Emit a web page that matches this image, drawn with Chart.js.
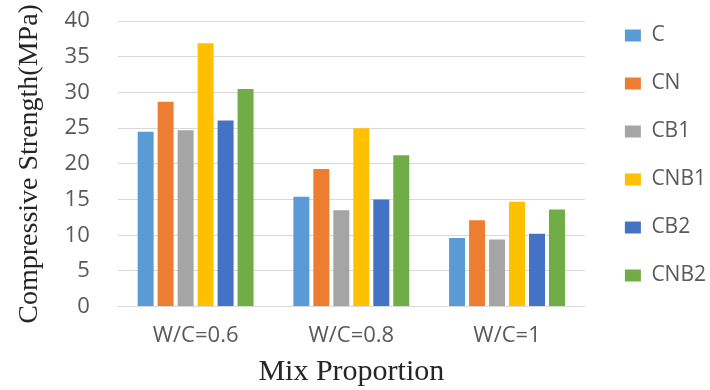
<!DOCTYPE html>
<html>
<head>
<meta charset="utf-8">
<script src="https://cdn.jsdelivr.net/npm/chart.js@4/dist/chart.umd.min.js"></script>
<style>
  html, body { margin: 0; padding: 0; background: #fff; }
  #wrap { width: 710px; height: 390px; }
</style>
</head>
<body>
<div id="wrap"><canvas id="strengthChart"></canvas></div>
<script>
// mix proportions on the x axis
const mixLabels = ['W/C=0.6', 'W/C=0.8', 'W/C=1'];

// compressive strength (MPa) per mix
const seriesC    = [24.5, 15.4, 9.6];
const seriesCN   = [28.7, 19.3, 12.1];
const seriesCB1  = [24.7, 13.5, 9.4];
const seriesCNB1 = [36.9, 25.0, 14.7];
const seriesCB2  = [26.1, 15.0, 10.2];
const seriesCNB2 = [30.5, 21.2, 13.6];

const seriesNames = ['C', 'CN', 'CB1', 'CNB1', 'CB2', 'CNB2'];
const seriesColors = ['#5B9BD5', '#ED7D31', '#A5A5A5', '#FFC000', '#4472C4', '#70AD47'];
const allSeries = [seriesC, seriesCN, seriesCB1, seriesCNB1, seriesCB2, seriesCNB2];

const yTicks = [0, 5, 10, 15, 20, 25, 30, 35, 40];

const datasets = allSeries.map(function(vals, i) {
  return {
    label: seriesNames[i],
    data: vals,
    backgroundColor: seriesColors[i],
    borderWidth: 0,
    categoryPercentage: 0.77,
    barPercentage: 0.8
  };
});

// nudge the legend block a bit right/up once the layout is done
const legendNudge = {
  id: 'legendNudge',
  afterLayout: function(chart) {
    const lg = chart.legend;
    if (!lg) return;
    const dx = 13, dy = -2;
    lg.left += dx; lg.right += dx;
    lg.top += dy; lg.bottom += dy;
  }
};

new Chart(document.getElementById('strengthChart'), {
  type: 'bar',
  data: { labels: mixLabels, datasets: datasets },
  plugins: [legendNudge],
  options: {
    responsive: true,
    maintainAspectRatio: false,
    animation: false,
    layout: { padding: { top: 0, right: 7, bottom: 0, left: 4 } },
    plugins: {
      tooltip: { enabled: false },
      legend: {
        position: 'right',
        align: 'start',
        labels: {
          boxWidth: 16,
          boxHeight: 12,
          padding: 27,
          color: '#595959',
          font: { family: '"Open Sans", sans-serif', size: 21 }
        }
      }
    },
    scales: {
      x: {
        // invisible tick marks just to space the labels off the axis
        grid: { display: true, drawOnChartArea: false, drawTicks: true, tickLength: 16, tickColor: 'rgba(0,0,0,0)' },
        border: { color: '#D9D9D9', width: 1 },
        ticks: {
          color: '#595959',
          padding: 0,
          font: { family: '"Open Sans", sans-serif', size: 22 }
        },
        title: {
          display: true,
          text: 'Mix Proportion',
          color: '#262626',
          padding: { top: 5, bottom: 0 },
          font: { family: '"Liberation Serif", serif', size: 30 }
        }
      },
      y: {
        min: 0,
        max: 40,
        afterBuildTicks: function(axis) {
          axis.ticks = yTicks.map(function(v) { return { value: v }; });
        },
        grid: { color: '#D9D9D9', drawTicks: true, tickLength: 20, tickColor: 'rgba(0,0,0,0)' },
        border: { display: false },
        ticks: {
          color: '#595959',
          padding: 8,
          font: { family: '"Open Sans", sans-serif', size: 22 }
        },
        title: {
          display: true,
          text: 'Compressive Strength(MPa)',
          color: '#262626',
          padding: { top: 9, bottom: 10 },
          font: { family: '"Liberation Serif", serif', size: 28 }
        }
      }
    }
  }
});
</script>
</body>
</html>
